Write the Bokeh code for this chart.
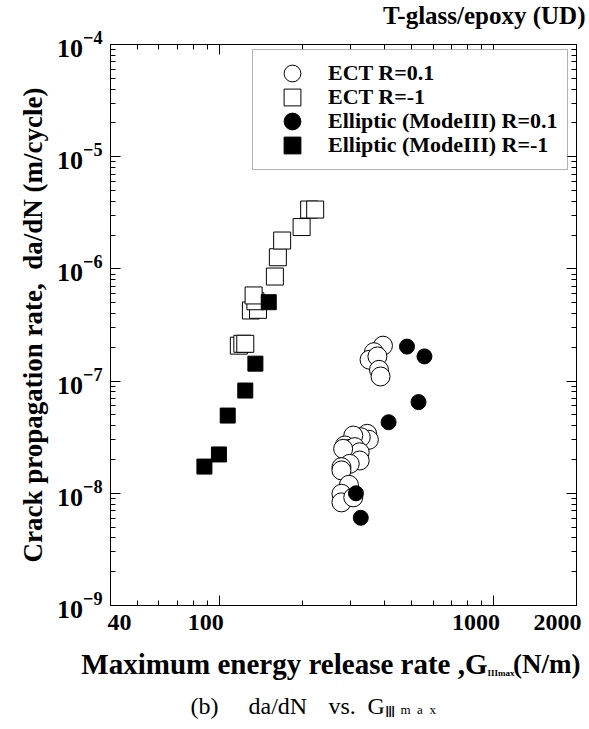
import math
from bokeh.plotting import figure
from bokeh.layouts import column
from bokeh.models import (Range1d, LogAxis, LogScale, FixedTicker, LogTicker,
                          Legend, LegendItem, BoxAnnotation)
from bokeh.core.properties import value
from bokeh.embed import file_html
from bokeh.resources import INLINE

# ECT, R = 0.1  (open circles)
ect_r01_g = [394, 365, 352, 376, 381, 386, 345, 350, 327, 307, 286, 298,
             311, 324, 282, 324, 298, 278, 278, 296, 278, 278, 307]
ect_r01_rate = [2.07e-7, 1.81e-7, 1.55e-7, 1.66e-7, 1.26e-7, 1.10e-7,
                3.39e-8, 3.00e-8, 3.16e-8, 3.27e-8, 2.67e-8, 2.49e-8,
                2.58e-8, 2.32e-8, 2.49e-8, 1.96e-8, 1.83e-8, 1.71e-8,
                1.60e-8, 1.19e-8, 9.9e-9, 8.3e-9, 9.2e-9]

# ECT, R = -1  (open squares)
ect_rm1_g = [130, 138, 135, 133, 117.5, 121, 124, 159, 163, 169, 199, 212, 223]
ect_rm1_rate = [4.26e-7, 4.32e-7, 5.15e-7, 5.80e-7, 2.07e-7, 2.15e-7, 2.15e-7,
                8.55e-7, 1.27e-6, 1.79e-6, 2.36e-6, 3.38e-6, 3.38e-6]

# Elliptic (Mode III), R = 0.1  (filled circles)
ell_r01_g = [482, 558, 531, 413, 314, 327]
ell_r01_rate = [2.03e-7, 1.66e-7, 6.5e-8, 4.3e-8, 1.0e-8, 6.05e-9]

# Elliptic (Mode III), R = -1  (filled squares)
ell_rm1_g = [88, 99.4, 107, 124, 135, 151]
ell_rm1_rate = [1.73e-8, 2.22e-8, 4.93e-8, 8.24e-8, 1.43e-7, 5.05e-7]

legend_labels = ["ECT R=0.1", "ECT R=-1",
                 "Elliptic (ModeIII) R=0.1", "Elliptic (ModeIII) R=-1"]

x_tick_values = [40, 100, 1000, 2000]
x_tick_labels = ["40", "100", "1000", "2000"]
x_minor_values = [50, 60, 70, 80, 90, 200, 300, 400, 500, 600, 700, 800, 900]

G_MIN, G_MAX = 40, 2000
RATE_MIN, RATE_MAX = 1e-9, 1e-4

SERIF = "Liberation Serif"

# page geometry (pixels); the three canvases overlap slightly so that
# texts near the seams keep their whole box inside one canvas
W = 589
TOP_H = 32
BORDER_L, BORDER_R, BORDER_T, BORDER_B = 110, 13, 24, 24
FRAME_H = 561
MAIN_H = BORDER_T + FRAME_H + BORDER_B
TOP_OVERLAP = 12          # main canvas starts 12 px above the title strip end
BOT_OVERLAP = BORDER_B    # bottom strip starts at the frame's bottom edge
BOT_H = 729 - (TOP_H + MAIN_H - TOP_OVERLAP - BOT_OVERLAP)


def strip(height):
    f = figure(width=W, height=height, x_range=Range1d(0, W),
               y_range=Range1d(height, 0), min_border=0,
               x_axis_location=None, y_axis_location=None,
               output_backend="svg", toolbar_location=None,
               outline_line_color=None, background_fill_alpha=0,
               border_fill_alpha=0, frame_align=False)
    f.grid.visible = False
    return f


def put_text(f, x, y, text, size, align="left", style="bold", **kw):
    f.text(x=x, y=y, text=text, text_align=align, text_baseline="middle",
           text_font=value(SERIF), text_font_style=style,
           text_font_size=size, text_color="black", **kw)


# ---- main plot ---------------------------------------------------------
p = figure(width=W, height=MAIN_H, x_axis_type="log", y_axis_type="log",
           x_range=Range1d(G_MIN, G_MAX), y_range=Range1d(RATE_MIN, RATE_MAX),
           output_backend="svg", toolbar_location=None,
           min_border_left=BORDER_L, min_border_right=BORDER_R,
           min_border_top=BORDER_T, min_border_bottom=BORDER_B,
           background_fill_color="white", border_fill_alpha=0,
           frame_align=False)
p.styles = {"margin-top": f"-{TOP_OVERLAP}px"}
p.grid.visible = False
p.outline_line_color = "black"
p.outline_line_width = 1

xt = FixedTicker(ticks=[100, 1000], minor_ticks=x_minor_values)
p.xaxis.ticker = xt
p.xaxis.major_label_text_font_size = "1px"
p.xaxis.major_label_text_alpha = 0
p.xaxis.major_label_standoff = 0

p.yaxis.ticker = LogTicker(num_minor_ticks=10)
p.yaxis.major_label_text_font = SERIF
p.yaxis.major_label_text_font_style = "bold"
p.yaxis.major_label_text_font_size = "26px"
p.yaxis.major_label_text_color = "black"
p.yaxis.major_label_standoff = 8
p.yaxis.axis_label = "Crack propagation rate,\u00a0\u00a0da/dN (m/cycle)"
p.yaxis.axis_label_text_font = SERIF
p.yaxis.axis_label_text_font_style = "bold"
p.yaxis.axis_label_text_font_size = "27px"
p.yaxis.axis_label_text_color = "black"
p.yaxis.axis_label_standoff = 6

for ax in list(p.xaxis) + list(p.yaxis):
    ax.major_tick_in = 10
    ax.major_tick_out = 0
    ax.minor_tick_in = 5
    ax.minor_tick_out = 0
    ax.axis_line_color = "black"
    ax.major_tick_line_color = "black"
    ax.minor_tick_line_color = "black"

# mirrored tick marks on the top and right edges
for side, tk in (("above", xt), ("right", LogTicker(num_minor_ticks=10))):
    p.add_layout(LogAxis(ticker=tk, major_label_text_font_size="1px",
                         major_label_text_alpha=0, major_label_standoff=0,
                         major_tick_in=10, major_tick_out=0,
                         minor_tick_in=5, minor_tick_out=0), side)

r_sq_open = p.scatter(ect_rm1_g, ect_rm1_rate, marker="square", size=17,
                      fill_color="white", line_color="black", line_width=1)
r_ci_open = p.scatter(ect_r01_g, ect_r01_rate, marker="circle", size=19,
                      fill_color="white", line_color="black", line_width=1)
r_ci_fill = p.scatter(ell_r01_g, ell_r01_rate, marker="circle", size=15,
                      fill_color="black", line_color="black")
r_sq_fill = p.scatter(ell_rm1_g, ell_rm1_rate, marker="square", size=15,
                      fill_color="black", line_color="black")

# legend: framed box with two interleaved item columns so the rows sit
# closer together than the key glyph boxes are tall
LEG_L, LEG_T, LEG_W, LEG_H = 142, 5, 315, 120   # box, relative to frame
ROW = 24
KEY = 42
p.add_layout(BoxAnnotation(left=LEG_L, right=LEG_L + LEG_W,
                           top=FRAME_H - LEG_T,
                           bottom=FRAME_H - LEG_T - LEG_H,
                           left_units="screen", right_units="screen",
                           top_units="screen", bottom_units="screen",
                           fill_color="white", fill_alpha=1.0,
                           line_color="black", line_width=1))
renderers = [r_ci_open, r_sq_open, r_ci_fill, r_sq_fill]
for k in range(2):
    items = [LegendItem(label=legend_labels[i], renderers=[renderers[i]])
             for i in (k, k + 2)]
    first_center = LEG_T + ROW + k * ROW
    leg_top = first_center - KEY / 2
    leg_bottom = leg_top + 2 * KEY + (2 * ROW - KEY)
    p.add_layout(Legend(items=items,
                        location=(LEG_L + 19, FRAME_H - leg_bottom),
                        padding=0, margin=0, spacing=2 * ROW - KEY,
                        glyph_width=KEY, glyph_height=KEY, label_height=20,
                        label_standoff=15,
                        label_text_font=SERIF, label_text_font_style="bold",
                        label_text_font_size="22px", label_text_color="black",
                        border_line_color=None, background_fill_alpha=0.0),
                 "center")

# ---- title strip ---------------------------------------------------------
pt = strip(TOP_H)
put_text(pt, 585, 15, ["T-glass/epoxy (UD)"], "25px", align="right")

# ---- bottom strip: tick labels, axis title, caption ----------------------
pb = strip(BOT_H)
pb.styles = {"margin-top": f"-{BOT_OVERLAP}px"}
frame_w = W - BORDER_L - BORDER_R
lo, hi = math.log10(G_MIN), math.log10(G_MAX)
dpp = (hi - lo) / frame_w
pb.extra_x_ranges = {"g": Range1d(10 ** (lo - BORDER_L * dpp),
                                  10 ** (hi + BORDER_R * dpp))}
pb.extra_x_scales = {"g": LogScale()}

x_label_shift = [9, -14, -18, -19]
pb.text(x=x_tick_values, y=17, text=x_tick_labels, x_offset=x_label_shift,
        x_range_name="g", text_align="center", text_baseline="middle",
        text_font=value(SERIF), text_font_style="bold",
        text_font_size="24px", text_color="black")

# axis title: G with a small "IIImax" subscript
put_text(pb, 487, 58, ["Maximum energy release rate ,G"], "29px", align="right")
put_text(pb, 487, 67, ["IIImax"], "9px")
put_text(pb, 580, 58, ["(N/m)"], "27px", align="right")

# caption
put_text(pb, 190, 100, ["(b)"], "24px", style="normal")
put_text(pb, 248, 100, ["da/dN"], "24px", style="normal")
put_text(pb, 328, 100, ["vs."], "24px", style="normal")
put_text(pb, 367, 100, ["G"], "24px", style="normal")
put_text(pb, 384, 106, ["Ⅲ"], "15px", style="normal")
put_text(pb, 400, 104, ["m\u00a0\u00a0a\u00a0\u00a0x"], "13px", style="normal")

layout = column(pt, p, pb, spacing=0)
open("out.html", "w").write(file_html(layout, INLINE))
